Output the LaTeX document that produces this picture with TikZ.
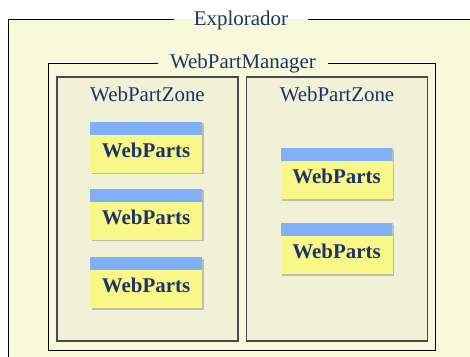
\documentclass[tikz,border=0pt]{standalone}
\usepackage{fontspec}
\setmainfont{Liberation Serif}
\usetikzlibrary{shadows}

\definecolor{navy}{HTML}{1E3466}
\definecolor{outerfill}{HTML}{F6F9DA}
\definecolor{zonefill}{HTML}{F0F1D6}
\definecolor{zonegray}{HTML}{4A4A4A}
\definecolor{partyellow}{HTML}{F8F888}
\definecolor{partblue}{HTML}{80B0F8}

\tikzset{
  title/.style={text=navy, font=\fontsize{21}{25}\selectfont, inner ysep=0pt},
  zone/.style={draw=zonegray, line width=1.2bp, fill=zonefill,
    minimum width=181bp, minimum height=264bp},
  webpart/.style={fill=partyellow, minimum width=112bp, minimum height=51bp,
    inner sep=0pt, text height=20bp, text depth=0bp, text=navy,
    font=\bfseries\fontsize{21}{24}\selectfont,
    drop shadow={shadow xshift=1.5bp, shadow yshift=-1.8bp, opacity=0.45},
    path picture={\fill[partblue] (path picture bounding box.north west)
      rectangle ([yshift=-13bp]path picture bounding box.north east);}}
}

\begin{document}
\begin{tikzpicture}[x=1bp, y=-1bp]
\useasboundingbox (0,0) rectangle (470,356);

% browser frame
\coordinate (tl) at (8,19);
\fill[outerfill] (tl) rectangle (471,357);
\node[title, inner xsep=20bp] (expl) at (241,20.5) {Explorador};
\draw[line width=1bp] (8,357) -- (tl) -- (expl.west |- tl);
\draw[line width=1bp] (expl.east |- tl) -- (471,19);

% manager frame
\node[minimum width=386bp, minimum height=286bp] (mgr) at (242,207) {};
\node[title, inner xsep=11.5bp] (mgrtitle) at (243,63) {WebPartManager};
\draw[line width=1bp] (mgrtitle.west |- mgr.north) -- (mgr.north west) -- (mgr.south west)
  -- (mgr.south east) -- (mgr.north east) -- (mgrtitle.east |- mgr.north);

% zones
\node[zone] (zoneL) at (147.5,209) {};
\node[zone] (zoneR) at (337,209) {};
\node[title] (zoneLtitle) at ([yshift=-18bp]zoneL.north) {WebPartZone};
\node[title] (zoneRtitle) at ([yshift=-18bp]zoneR.north) {WebPartZone};

% web parts
\foreach \i/\y in {1/147, 2/214, 3/282.5}
  \node[webpart] (partL\i) at (146,\y) {WebParts};
\foreach \i/\y in {1/173.5, 2/248.5}
  \node[webpart] (partR\i) at (336.5,\y) {WebParts};
\end{tikzpicture}
\end{document}
